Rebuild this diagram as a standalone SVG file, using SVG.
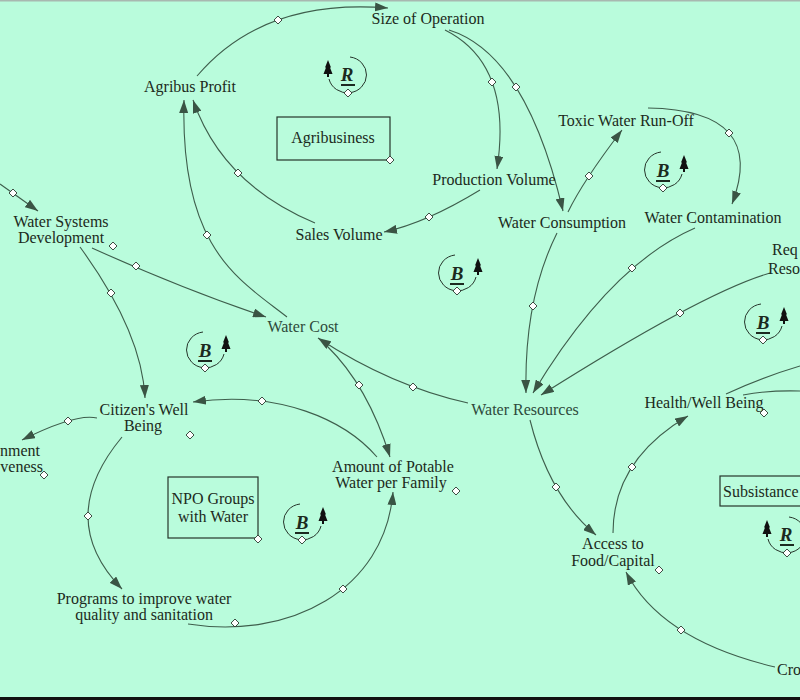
<svg xmlns="http://www.w3.org/2000/svg" width="800" height="700" viewBox="0 0 800 700">
<style>
.n{font-family:"Liberation Serif","Times New Roman",serif;font-size:16px;fill:#1c2a20;text-anchor:middle}
.s{text-anchor:start}
.e{text-anchor:end}
.lg{fill:#2e4a3b}
.c{fill:none;stroke:#3e5e4c;stroke-width:1.1;marker-end:url(#ah)}
.cn{fill:none;stroke:#3e5e4c;stroke-width:1.1}
.dia{fill:#fff;stroke:#2b3a30;stroke-width:0.9}
.box{fill:none;stroke:#26352b;stroke-width:1.2}
.loop{fill:none;stroke:#26352b;stroke-width:1}
.lt{font-family:"Liberation Serif","Times New Roman",serif;font-size:19px;font-weight:bold;font-style:italic;fill:#1c2a20;text-anchor:middle}
.ul{stroke:#1c2a20;stroke-width:2}
</style>
<defs>
<marker id="ah" markerWidth="14" markerHeight="9" refX="13" refY="4.5" orient="auto" markerUnits="userSpaceOnUse">
<path d="M0,0 L13,4.5 L0,9 Z" fill="#3a5444"/>
</marker>
<path id="d" class="dia" d="M0,-4 L4,0 L0,4 L-4,0 Z"/>
<path id="tr" fill="#111" d="M0,-10 L3,-2.5 L2,-2.5 L4.5,4 L-4.5,4 L-2,-2.5 L-3,-2.5 Z M-1,4 h2 v3 h-2 Z"/>
</defs>
<rect width="800" height="700" fill="#b9fcdc"/>
<rect x="0" y="0" width="800" height="1.5" fill="#a8b8b0"/>
<rect x="0" y="697" width="800" height="3" fill="#111"/>

<g id="connectors">
<path class="c" d="M197,76 Q263,-2 388,8"/>
<use href="#d" x="278" y="20"/>
<path class="c" d="M445,30 Q513,64 497,169"/>
<use href="#d" x="492" y="82"/>
<path class="c" d="M449,30 Q526,54 563,211"/>
<use href="#d" x="516" y="87"/>
<path class="c" d="M480,190 Q426,223 384,232"/>
<use href="#d" x="429" y="217"/>
<path class="c" d="M568,212 Q583,181 622,130"/>
<use href="#d" x="589" y="176"/>
<path class="c" d="M648,108 Q768,110 732,204"/>
<use href="#d" x="729" y="133"/>
<path class="c" d="M695,228 Q610,265 533,393"/>
<use href="#d" x="632" y="268"/>
<path class="c" d="M557,233 Q524,299 526,393"/>
<use href="#d" x="533" y="306"/>
<path class="c" d="M770,273 Q704,292 541,395"/>
<use href="#d" x="680" y="313"/>
<path class="c" d="M468,403 Q391,386 318,338"/>
<use href="#d" x="413" y="387"/>
<path class="c" d="M327,346 Q368,386 390,457"/>
<use href="#d" x="359" y="385"/>
<path class="c" d="M377,457 C345,420 280,390 193,402"/>
<use href="#d" x="262" y="401"/>
<path class="c" d="M122,437 Q54,519 122,589"/>
<use href="#d" x="88" y="516"/>
<path class="c" d="M188,624 C290,640 385,590 393,492"/>
<use href="#d" x="343" y="589"/>
<path class="c" d="M80,247 Q142,332 145,398"/>
<use href="#d" x="111" y="293"/>
<path class="c" d="M92,248 Q185,290 266,317"/>
<use href="#d" x="136" y="266"/>
<path class="c" d="M287,317 C240,280 180,250 184,100"/>
<use href="#d" x="207" y="235"/>
<path class="c" d="M315,223 Q222,184 193,100"/>
<use href="#d" x="238" y="173"/>
<path class="c" d="M530,420 Q549,496 596,535"/>
<use href="#d" x="556" y="487"/>
<path class="c" d="M613,533 Q613,460 688,416"/>
<use href="#d" x="632" y="467"/>
<path class="c" d="M775,667 Q661,640 626,572"/>
<use href="#d" x="681" y="630"/>
<path class="c" d="M97,418 Q76,413 22,440"/>
<use href="#d" x="68" y="421"/>
<path class="c" d="M0,184 L38,211"/>
<use href="#d" x="13" y="193"/>
<path class="cn" d="M726,394 Q760,378 800,366"/>
<path class="cn" d="M743,395 Q770,390 800,391"/>
</g>

<g id="size-of-operation"><text class="n" x="428" y="24">Size of Operation</text></g>
<g id="agribus-profit"><text class="n" x="190" y="92">Agribus Profit</text></g>
<g id="agribusiness"><rect class="box" x="277" y="117" width="113" height="43"/><text class="n" x="333" y="143">Agribusiness</text><use href="#d" x="390" y="160"/></g>
<g id="production-volume"><text class="n" x="494" y="185">Production Volume</text></g>
<g id="sales-volume"><text class="n" x="339" y="240">Sales Volume</text></g>
<g id="water-consumption"><text class="n" x="562" y="228">Water Consumption</text></g>
<g id="toxic-water-run-off"><text class="n" x="626" y="126">Toxic Water Run-Off</text></g>
<g id="water-contamination"><text class="n" x="713" y="223">Water Contamination</text></g>
<g id="water-systems-development"><text class="n" x="61" y="227">Water Systems</text><text class="n" x="61" y="243">Development</text><use href="#d" x="113" y="246"/></g>
<g id="water-cost"><text class="n lg" x="303" y="332">Water Cost</text></g>
<g id="water-resources"><text class="n lg" x="525" y="415">Water Resources</text></g>
<g id="citizens-well-being"><text class="n" x="144" y="415">Citizen's Well</text><text class="n" x="143" y="431">Being</text><use href="#d" x="190" y="435"/></g>
<g id="government-responsiveness"><text class="n e" x="40" y="456">nment</text><text class="n e" x="43" y="472">veness</text><use href="#d" x="44" y="475"/></g>
<g id="amount-of-potable-water"><text class="n" x="393" y="472">Amount of Potable</text><text class="n" x="391" y="488">Water per Family</text><use href="#d" x="456" y="491"/></g>
<g id="npo-groups"><rect class="box" x="168" y="477" width="90" height="61"/><text class="n" x="213" y="504">NPO Groups</text><text class="n" x="213" y="522">with Water</text><use href="#d" x="258" y="539"/></g>
<g id="programs"><text class="n" x="144" y="604">Programs to improve water</text><text class="n" x="144" y="620">quality and sanitation</text><use href="#d" x="235" y="623"/></g>
<g id="access-to-food"><text class="n" x="613" y="549">Access to</text><text class="n" x="613" y="566">Food/Capital</text><use href="#d" x="659" y="570"/></g>
<g id="health-well-being"><text class="n" x="704" y="408">Health/Well Being</text><use href="#d" x="764" y="413"/></g>
<g id="required-resources"><text class="n s" x="772" y="255">Req</text><text class="n s" x="768" y="274">Reso</text></g>
<g id="subsistance"><rect class="box" x="720" y="476" width="90" height="30"/><text class="n s" x="723" y="497">Subsistance</text></g>
<g id="crops"><text class="n s" x="777" y="675">Cro</text></g>

<g id="loop-r1" transform="translate(348,75)"><path class="loop" d="M2,-18 A19,18 0 1 1 -19,4"/><use href="#tr" x="-20" y="-5"/><text class="lt" x="-1" y="6">R</text><path class="ul" d="M-7,10h14"/><use href="#d" x="0" y="18"/></g>
<g id="loop-b1" transform="translate(663,170)"><path class="loop" d="M-2,-18 A19,18 0 1 0 19,4"/><use href="#tr" x="21" y="-5"/><text class="lt" x="0" y="7">B</text><path class="ul" d="M-7,11h14"/><use href="#d" x="0" y="18"/></g>
<g id="loop-b2" transform="translate(457,273)"><path class="loop" d="M-2,-18 A19,18 0 1 0 19,4"/><use href="#tr" x="21" y="-5"/><text class="lt" x="0" y="7">B</text><path class="ul" d="M-7,11h14"/><use href="#d" x="0" y="18"/></g>
<g id="loop-b3" transform="translate(205,350)"><path class="loop" d="M-2,-18 A19,18 0 1 0 19,4"/><use href="#tr" x="21" y="-5"/><text class="lt" x="0" y="7">B</text><path class="ul" d="M-7,11h14"/><use href="#d" x="0" y="18"/></g>
<g id="loop-b4" transform="translate(302,522)"><path class="loop" d="M-2,-18 A19,18 0 1 0 19,4"/><use href="#tr" x="21" y="-5"/><text class="lt" x="0" y="7">B</text><path class="ul" d="M-7,11h14"/><use href="#d" x="0" y="18"/></g>
<g id="loop-b5" transform="translate(763,322)"><path class="loop" d="M-2,-18 A19,18 0 1 0 19,4"/><use href="#tr" x="21" y="-5"/><text class="lt" x="0" y="7">B</text><path class="ul" d="M-7,11h14"/><use href="#d" x="0" y="18"/></g>
<g id="loop-r2" transform="translate(787,535)"><path class="loop" d="M2,-18 A19,18 0 1 1 -19,4"/><use href="#tr" x="-20" y="-5"/><text class="lt" x="-1" y="6">R</text><path class="ul" d="M-7,10h14"/><use href="#d" x="0" y="18"/></g>
</svg>
